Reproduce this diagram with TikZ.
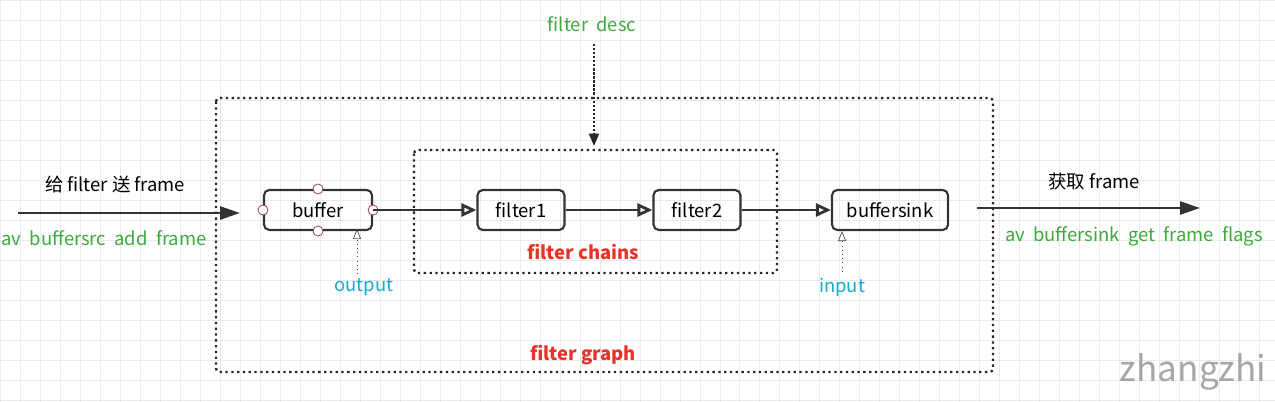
\documentclass[tikz,border=0pt]{standalone}
\usepackage{fontspec}
\setmainfont{Noto Sans CJK SC}
\usetikzlibrary{arrows.meta,positioning}
\definecolor{txtgreen}{RGB}{60,170,60}
\definecolor{txtred}{RGB}{230,50,40}
\definecolor{txtcyan}{RGB}{20,170,210}
\definecolor{portred}{RGB}{150,50,50}

\begin{document}
\begin{tikzpicture}[x=0.02cm,y=-0.02cm,
        font=\fontsize{10.5}{12}\selectfont,
        block/.style={draw=black!80, very thick, rounded corners=3pt, minimum height=0.8cm, inner sep=2pt},
        region/.style={draw=black!85, line width=1.3pt, dotted, rounded corners=2pt},
        flow/.style={draw=black!80, line width=1.6pt, -{Triangle[open,length=3mm,width=2.6mm]}},
        feed/.style={draw=black!80, line width=1.5pt, -{Triangle[length=4mm,width=2.6mm]}},
        hint/.style={draw=black!70, dotted, thin, -{Triangle[open,length=2mm,width=1.6mm]}},
        port/.style={circle, draw=portred, fill=white, inner sep=0pt, minimum size=2mm},
        api/.style={text=txtgreen},
        side/.style={text=txtcyan},
        title/.style={text=txtred, font=\fontsize{10.5}{12}\selectfont\bfseries}
    ]

    % background grid and page size
    \useasboundingbox (0,0) rectangle (1275,402);
    \draw[black!8, step=0.4cm] (0,0) grid (1275,402);

    % outer regions
    \draw[region] (216,98) rectangle (993,372);
    \draw[region] (414,150) rectangle (777,273);
    \node[title] (graph) at (583,355) {filter graph};
    \node[title] (chains) at (583,252) {filter chains};

    % blocks
    \node[block, minimum width=2.16cm] (buffer) at (318,210) {buffer};
    \node[block, minimum width=1.74cm] (filter1) at (521,210) {filter1};
    \node[block, minimum width=1.74cm] (filter2) at (697,210) {filter2};
    \node[block, minimum width=2.32cm] (sink) at (890,210) {buffersink};
    \foreach \a in {north,south,east,west}
        \node[port] at (buffer.\a) {};

    % chain
    \draw[flow] (buffer.east) -- (filter1.west);
    \draw[flow] (filter1) -- (filter2);
    \draw[flow] (filter2) -- (sink);

    % input and output
    \coordinate (srcin) at (18,213);
    \coordinate (srcend) at (240,213);
    \coordinate (sinkout) at (977,208);
    \coordinate (sinkend) at (1200,208);
    \draw[feed] (srcin) -- (srcend);
    \draw[feed] (sinkout) -- (sinkend);
    \node (give) at (115,185) {给 filter 送 frame};
    \node[api] (addframe) at (104,238) {av\ \ buffersrc\ \ add\ \ frame};
    \node (take) at (1094,182) {获取 frame};
    \node[api] (getframe) at (1134,236) {av\ \ buffersink\ \ get\ \ frame\ \ flags};

    % description
    \node[api] (desc) at (592,24) {filter\ \ desc};
    \coordinate (descstart) at (594,44);
    \coordinate (descend) at (594,146);
    \draw[draw=black!85, line width=1.3pt, densely dotted, -{Triangle[length=2.5mm,width=2mm]}] (descstart) -- (descend);

    % pad hints
    \node[side] (output) at (364,287) {output};
    \node[side] (input) at (842,287) {input};
    \coordinate (outfoot) at (357,274);
    \coordinate (outtop) at (357,229);
    \draw[hint] (outfoot) -- (outtop);
    \draw[hint] (input.north) -- (input.north |- sink.south);

    % watermark
    \node[text=black!35, font=\fontsize{20}{24}\selectfont] (mark) at (1193,372) {zhangzhi};

\end{tikzpicture}
\end{document}
